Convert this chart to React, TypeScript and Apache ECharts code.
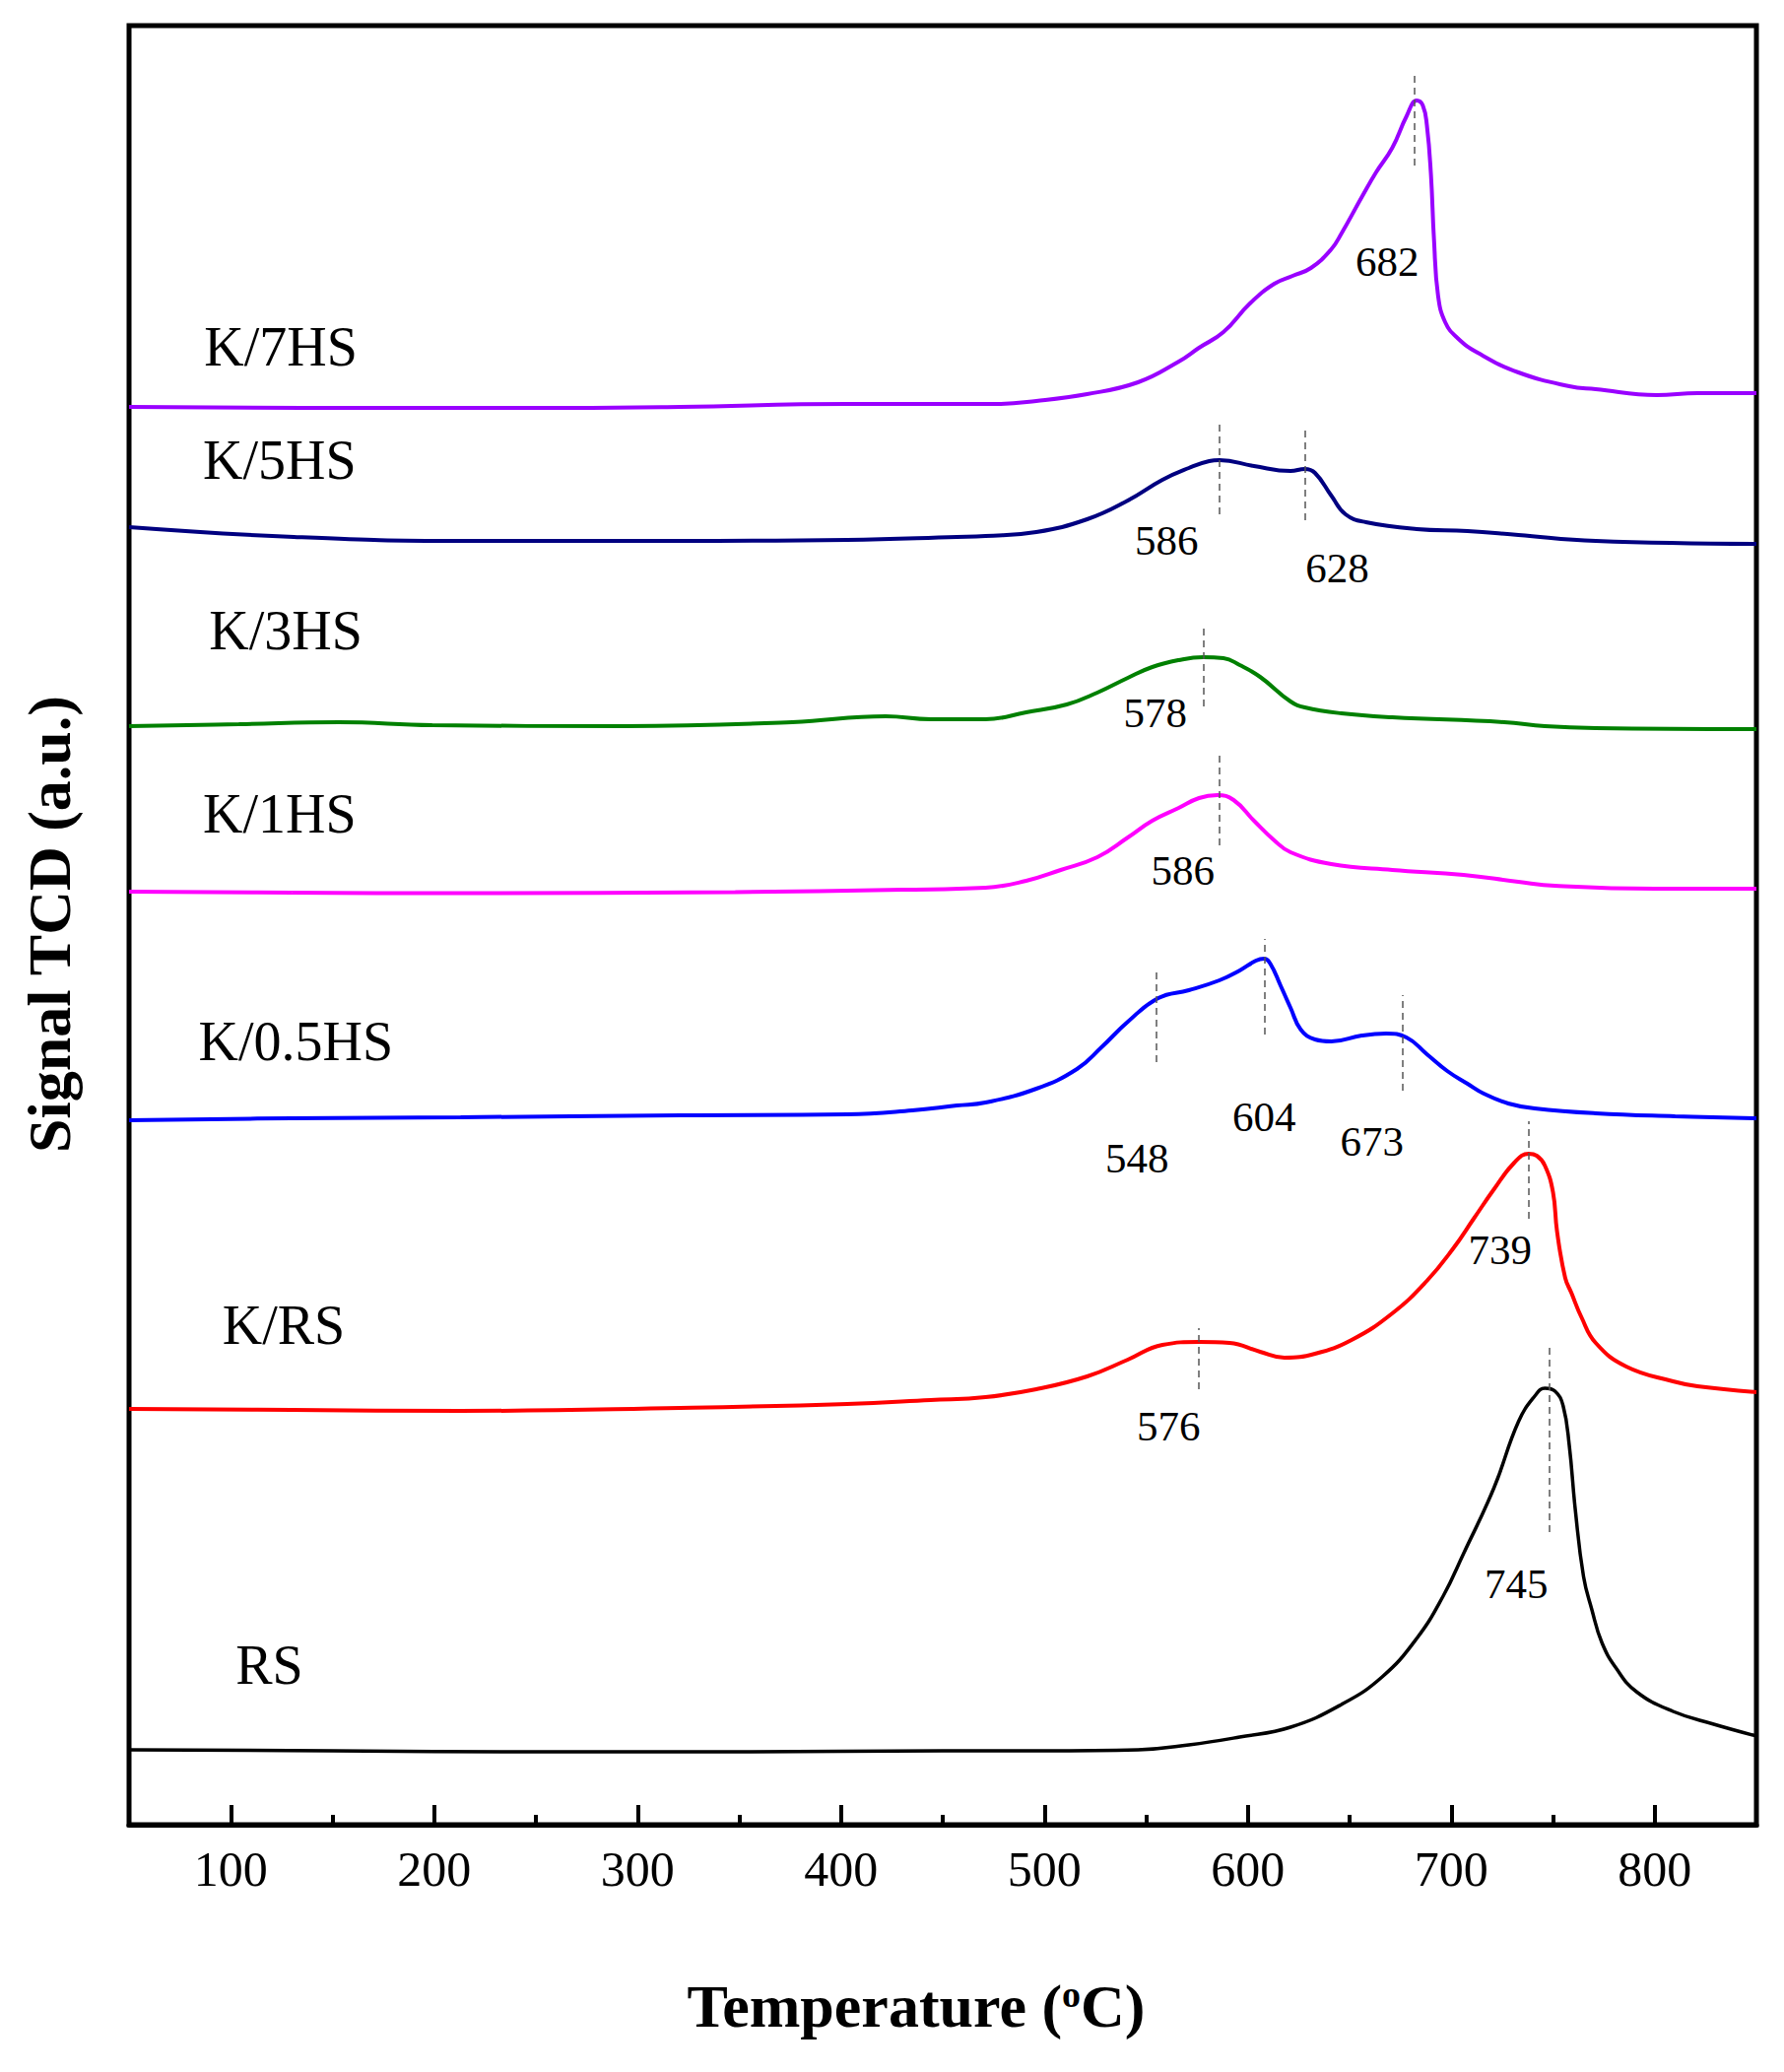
import React, { useEffect, useRef } from 'react';
import * as echarts from 'echarts';

// TPR profiles: [temperature (°C), signal (a.u., stacked offset)]
const RS: [number, number][] = [
  [50, 76], [150, 75], [250, 74], [350, 74], [450, 75], [500, 75], [546, 76], [571, 81],
  [596, 89], [621, 99], [646, 122], [666, 150], [683, 189], [696, 232], [706, 275],
  [721, 342], [733, 409], [741, 435], [746, 443], [751, 440], [755, 425], [758, 385],
  [761, 319], [765, 252], [769, 219], [774, 185], [781, 159], [791, 135], [809, 115],
  [829, 102], [850, 90],
];

const K_RS: [number, number][] = [
  [50, 422], [130, 421], [213, 420], [321, 423], [403, 427], [444, 431], [471, 434],
  [496, 442], [521, 455], [541, 472], [558, 487], [576, 490], [591, 489], [606, 480],
  [618, 474], [633, 478], [651, 492], [671, 519], [688, 552], [701, 585], [711, 615],
  [721, 645], [731, 672], [738, 681], [742, 679], [746, 669], [750, 642], [752, 602],
  [756, 555], [759, 540], [764, 515], [771, 489], [786, 465], [809, 450], [821, 445],
  [850, 439],
];

const K_05HS: [number, number][] = [
  [50, 715], [130, 717], [213, 718], [321, 720], [403, 721], [435, 725], [457, 730],
  [471, 733], [496, 747], [516, 767], [528, 789], [541, 815], [556, 839], [571, 847],
  [586, 857], [596, 867], [604, 877], [608, 879], [611, 874], [616, 852], [621, 829],
  [626, 807], [633, 797], [641, 795], [656, 801], [668, 803], [678, 799], [688, 782],
  [698, 765], [708, 752], [716, 742], [728, 732], [741, 727], [771, 722], [810, 719],
  [850, 717],
];

const K_1HS: [number, number][] = [
  [50, 947], [130, 946], [213, 945.5], [348, 946.5], [430, 949], [471, 951], [491, 958],
  [508, 969], [526, 982], [541, 1002], [553, 1019], [566, 1032], [576, 1042], [585, 1045],
  [593, 1040], [603, 1019], [613, 999], [621, 987], [641, 975], [671, 969], [706, 964],
  [733, 957], [751, 953], [800, 950], [850, 950],
];

const K_3HS: [number, number][] = [
  [50, 1115], [104, 1117], [153, 1119], [199, 1116], [294, 1115], [376, 1119], [422, 1125],
  [444, 1122], [471, 1122], [491, 1129], [511, 1137], [526, 1149], [541, 1164], [553, 1175],
  [566, 1182], [578, 1185], [588, 1184], [596, 1177], [606, 1165], [621, 1140], [628, 1134],
  [646, 1128], [671, 1124], [726, 1119], [746, 1115], [771, 1113], [850, 1112],
];

const K_5HS: [number, number][] = [
  [50, 1317], [131, 1307], [213, 1303], [321, 1303], [403, 1304], [457, 1307], [471, 1308],
  [496, 1312], [521, 1325], [541, 1344], [558, 1365], [571, 1377], [581, 1384], [586, 1385],
  [603, 1379], [621, 1374], [628, 1376], [633, 1372], [641, 1349], [648, 1330], [658, 1322],
  [683, 1315], [708, 1313], [733, 1309], [771, 1303], [850, 1300],
];

const K_7HS: [number, number][] = [
  [50, 1439], [158, 1438], [267, 1438], [321, 1439], [403, 1442], [450, 1442], [476, 1442],
  [496, 1445], [521, 1452], [546, 1464], [566, 1485], [576, 1499], [588, 1515], [601, 1544],
  [613, 1564], [622, 1572], [631, 1580], [641, 1599], [646, 1615], [656, 1652], [663, 1677],
  [671, 1702], [678, 1734], [683, 1750], [686, 1745], [688, 1725], [690, 1675], [691.5, 1609],
  [693.5, 1552], [697, 1525], [703, 1509], [713, 1494], [733, 1474], [758, 1460], [771, 1457],
  [801, 1451], [821, 1453], [850, 1453],
];

// x tick values
const majorTicks = [100, 200, 300, 400, 500, 600, 700, 800];
const minorTicks = [150, 250, 350, 450, 550, 650, 750];

// peak markers: [temperature, dash bottom, dash top]
const peakDashes: Record<string, number[][]> = {
  RS: [[748, 297, 484]],
  'K/RS': [[738, 615, 714], [576, 442, 504]],
  'K/0.5HS': [[555, 774, 870], [608, 802, 899], [676, 745, 842]],
  'K/1HS': [[586, 994, 1089]],
  'K/3HS': [[578, 1135, 1217]],
  'K/5HS': [[586, 1330, 1425], [628, 1324, 1419]],
  'K/7HS': [[682, 1684, 1779]],
};

// peak temperature labels: [text, x, y]
const peakLabels: Record<string, [string, number, number][]> = {
  RS: [['745', 732, 245]],
  'K/RS': [['739', 724, 584], ['576', 561, 405]],
  'K/0.5HS': [['548', 545.5, 677], ['604', 608, 719], ['673', 661, 694]],
  'K/1HS': [['586', 568, 969]],
  'K/3HS': [['578', 554.5, 1129]],
  'K/5HS': [['586', 560, 1304], ['628', 644, 1276]],
  'K/7HS': [['682', 668.5, 1587]],
};

// sample name label positions
const nameLabelPos: Record<string, [number, number]> = {
  RS: [119, 162],
  'K/RS': [126, 507],
  'K/0.5HS': [132, 795],
  'K/1HS': [124, 1026],
  'K/3HS': [127, 1212],
  'K/5HS': [124, 1385],
  'K/7HS': [124.6, 1500],
};

const samples = [
  { name: 'RS', data: RS, color: '#000000', width: 3.5 },
  { name: 'K/RS', data: K_RS, color: '#ff0000', width: 4 },
  { name: 'K/0.5HS', data: K_05HS, color: '#0000ff', width: 4 },
  { name: 'K/1HS', data: K_1HS, color: '#ff00ff', width: 4 },
  { name: 'K/3HS', data: K_3HS, color: '#008000', width: 4 },
  { name: 'K/5HS', data: K_5HS, color: '#000080', width: 4 },
  { name: 'K/7HS', data: K_7HS, color: '#9900ff', width: 4 },
];

const FONT = '"Liberation Serif", "Times New Roman", serif';

const App: React.FC = () => {
  const chartRef = useRef<HTMLDivElement>(null);

  useEffect(() => {
    document.body.style.margin = '0';
    if (!chartRef.current) return;
    const chart = echarts.init(chartRef.current, undefined, { renderer: 'svg' });

    const series = samples.map((s) => ({
      name: s.name,
      type: 'line',
      data: s.data,
      showSymbol: false,
      smooth: 0.45,
      lineStyle: { color: s.color, width: s.width },
      itemStyle: { color: s.color },
      silent: true,
      markLine: {
        silent: true,
        symbol: ['none', 'none'],
        label: { show: false },
        lineStyle: { color: '#555', width: 1.5, type: [7, 5] },
        data: peakDashes[s.name].map(([t, a, b]) => [{ coord: [t, a] }, { coord: [t, b] }]),
      },
      markPoint: {
        silent: true,
        symbol: 'circle',
        symbolSize: 0,
        itemStyle: { color: 'transparent' },
        data: [
          {
            name: s.name,
            coord: nameLabelPos[s.name],
            label: { fontSize: 56 },
          },
          ...peakLabels[s.name].map(([txt, t, h]) => ({
            name: txt,
            coord: [t, h],
            label: { fontSize: 43 },
          })),
        ],
        label: {
          show: true,
          position: 'inside',
          color: '#000',
          fontFamily: FONT,
          formatter: (p: any) => p.name,
        },
      },
    }));

    const option = {
      animation: false,
      backgroundColor: '#fff',
      grid: {
        left: 131,
        right: 28,
        top: 26,
        bottom: 251,
        show: true,
        borderColor: '#000',
        borderWidth: 5,
      },
      xAxis: [
        {
          type: 'value',
          min: 50,
          max: 850,
          axisLine: { show: true, lineStyle: { color: '#000', width: 5 } },
          axisTick: {
            show: true,
            inside: true,
            length: 20,
            lineStyle: { color: '#000', width: 4 },
            customValues: majorTicks,
          },
          axisLabel: {
            show: true,
            customValues: majorTicks,
            color: '#000',
            fontFamily: FONT,
            fontSize: 50,
            margin: 20,
          },
          splitLine: { show: false },
        },
        {
          type: 'value',
          min: 50,
          max: 850,
          position: 'bottom',
          axisLine: { show: false },
          axisTick: {
            show: true,
            inside: true,
            length: 10,
            lineStyle: { color: '#000', width: 4 },
            customValues: minorTicks,
          },
          axisLabel: { show: false, customValues: minorTicks },
          splitLine: { show: false },
        },
      ],
      yAxis: {
        type: 'value',
        min: 0,
        max: 1826,
        axisLine: { show: false },
        axisTick: { show: false },
        axisLabel: { show: false },
        splitLine: { show: false },
      },
      graphic: [
        {
          type: 'text',
          x: 930,
          y: 2036,
          style: {
            text: 'Temperature ({sup|o}C)',
            font: `bold 62px ${FONT}`,
            fill: '#000',
            align: 'center',
            verticalAlign: 'middle',
            textAlign: 'center',
            textVerticalAlign: 'middle',
            rich: {
              sup: {
                font: `bold 38px ${FONT}`,
                fill: '#000',
                verticalAlign: 'top',
                lineHeight: 38,
              },
            },
          },
        },
        {
          type: 'text',
          x: 50,
          y: 938,
          rotation: Math.PI / 2,
          style: {
            text: 'Signal TCD (a.u.)',
            font: `bold 62px ${FONT}`,
            fill: '#000',
            align: 'center',
            verticalAlign: 'middle',
            textAlign: 'center',
            textVerticalAlign: 'middle',
          },
        },
      ],
      series,
    };

    chart.setOption(option);
    return () => {
      chart.dispose();
    };
  }, []);

  return <div ref={chartRef} style={{ width: '1811px', height: '2103px' }} />;
};

export default App;
